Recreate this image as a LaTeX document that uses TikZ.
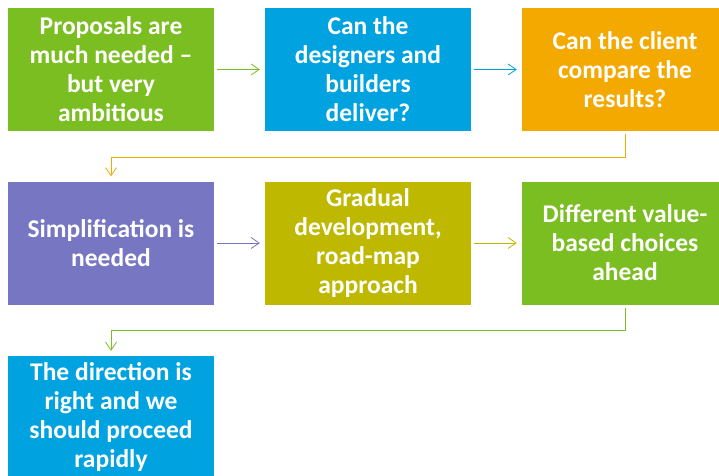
\documentclass[tikz,border=0pt]{standalone}
\usepackage{fontspec}
\setmainfont{Carlito}
\usetikzlibrary{arrows.meta}
\definecolor{cgreen}{HTML}{7BBE22}
\definecolor{cblue}{HTML}{00A3E0}
\definecolor{corange}{HTML}{F4A900}
\definecolor{cpurple}{HTML}{7676C2}
\definecolor{colive}{HTML}{BEB900}
\tikzset{
  card/.style={fill=#1, draw=none, minimum width=206pt, minimum height=123pt,
    inner sep=0pt, align=center, text=white,
    font=\fontsize{25.5pt}{29pt}\selectfont\bfseries},
  link/.style={draw=#1, line width=0.8pt, -{Straight Barb[length=8pt,width=11pt]},
    shorten <=3pt, shorten >=5pt}
}
\begin{document}
\begin{tikzpicture}[x=1pt,y=-1pt]
\useasboundingbox (0,0) rectangle (719,475);
\begin{scope}
\clip (0,0) rectangle (719,475);
\node[card=cgreen] (b1) at (111,69.5) {Proposals are\\much needed –\\but very\\ambitious};
\node[card=cblue] (b2) at (368,69.5) {Can the\\designers and\\builders\\deliver?};
\node[card=corange] (b3) at (625,69.5) {Can the client\\compare the\\results?};
\node[card=cpurple] (b4) at (111,243) {Simplification is\\needed};
\node[card=colive] (b5) at (368,243) {Gradual\\development,\\road-map\\approach};
\node[card=cgreen] (b6) at (625,243) {Different value-\\based choices\\ahead};
\node[card=cblue] (b7) at (111,417.5) {The direction is\\right and we\\should proceed\\rapidly};
\end{scope}
\draw[link=cgreen] (b1.east) -- (b2.west);
\draw[link=cblue] (b2.east) -- (b3.west);
\draw[link=corange] (b3.south) -- ++(0,26) -| (b4.north);
\draw[link=cpurple] (b4.east) -- (b5.west);
\draw[link=colive] (b5.east) -- (b6.west);
\draw[link=cgreen] (b6.south) -- ++(0,26) -| (b7.north);
\end{tikzpicture}
\end{document}
